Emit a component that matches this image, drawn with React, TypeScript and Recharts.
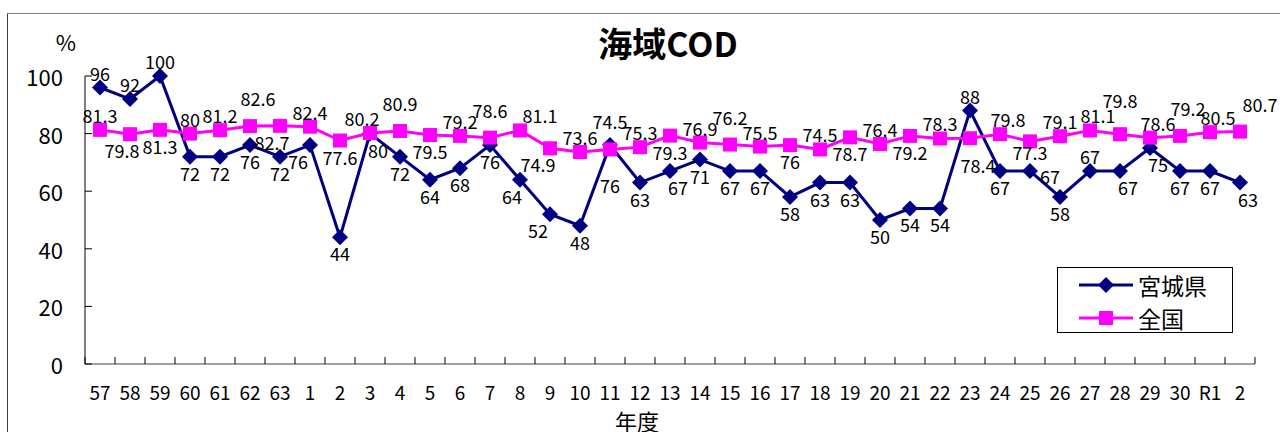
import { LineChart, Line, XAxis, YAxis, Legend } from "recharts";

// 年度 (昭和57〜平成30, 令和元, 2)
const years = [
  "57", "58", "59", "60", "61", "62", "63",
  "1", "2", "3", "4", "5", "6", "7", "8", "9", "10",
  "11", "12", "13", "14", "15", "16", "17", "18", "19", "20",
  "21", "22", "23", "24", "25", "26", "27", "28", "29", "30",
  "R1", "2",
];

// 宮城県 達成率
const miyagi = [
  96, 92, 100, 72, 72, 76, 72,
  76, 44, 80, 72, 64, 68, 76, 64, 52, 48,
  76, 63, 67, 71, 67, 67, 58, 63, 63, 50,
  54, 54, 88, 67, 67, 58, 67, 67, 75, 67,
  67, 63,
];

// 全国 達成率
const zenkoku = [
  81.3, 79.8, 81.3, 80, 81.2, 82.6, 82.7,
  82.4, 77.6, 80.2, 80.9, 79.5, 79.2, 78.6, 81.1, 74.9, 73.6,
  74.5, 75.3, 79.3, 76.9, 76.2, 75.5, 76, 74.5, 78.7, 76.4,
  79.2, 78.3, 78.4, 79.8, 77.3, 79.1, 81.1, 79.8, 78.6, 79.2,
  80.5, 80.7,
];

const yTicks = [0, 20, 40, 60, 80, 100];

// data label placement codes: vertical t/T/U above, n/s/b/B/D below, m level;
// horizontal c centre, l/L left, r/R right
const miyagiLabelPos = [
  "tc", "tc", "tc", "bc", "bc", "bc", "bc",
  "bL", "bc", "br", "bc", "bc", "bc", "bc", "bl", "bL", "bc",
  "Dc", "bc", "br", "bc", "bc", "bc", "bc", "bc", "bc", "bc",
  "bc", "bc", "tc", "bc", "nR", "bc", "tc", "br", "br", "bc",
  "bc", "br",
];
const zenkokuLabelPos = [
  "tc", "bl", "bc", "tc", "tc", "Tr", "bl",
  "tc", "bc", "tl", "Tc", "bc", "tc", "Tc", "tR", "bL", "tc",
  "Tc", "tc", "bc", "tc", "Tc", "tc", "bc", "tc", "bc", "tc",
  "bc", "tc", "Br", "tr", "sc", "tc", "tr", "Uc", "tr", "Tr",
  "tr", "TR",
];

const NAVY = "#000080";
const PINK = "#FF00FF";
const FONT = "'Noto Sans CJK JP', 'Noto Sans', sans-serif";

const data = years.map((y, i) => ({
  idx: i,
  year: y,
  miyagi: miyagi[i],
  zenkoku: zenkoku[i],
}));
// category centres carry the year labels, half steps carry the tick marks
const xTicks = [
  ...years.map((_, i) => i - 0.5),
  years.length - 0.5,
  ...years.map((_, i) => i),
].sort((a, b) => a - b);

const DY: Record<string, number> = { t: -15, T: -28, U: -34, n: 5, s: 11, b: 16, B: 27, D: 40, m: 0 };
const DX: Record<string, number> = { c: 0, l: -8, L: -12, r: 8, R: 20 };

const offset = (pos: string) => ({ dx: DX[pos[1]] ?? 0, dy: DY[pos[0]] ?? 0 });

const DiamondDot = (props: any) => {
  const { cx, cy, index, payload } = props;
  const { dx, dy } = offset(miyagiLabelPos[index]);
  return (
    <g key={`m${index}`}>
      <polygon
        points={`${cx},${cy - 8} ${cx + 8},${cy} ${cx},${cy + 8} ${cx - 8},${cy}`}
        fill={NAVY}
      />
      <text x={cx + dx} y={cy + dy} textAnchor="middle" dominantBaseline="central"
        fontSize={18} fontFamily={FONT} fill="#000">
        {payload.miyagi}
      </text>
    </g>
  );
};

const SquareDot = (props: any) => {
  const { cx, cy, index, payload } = props;
  const { dx, dy } = offset(zenkokuLabelPos[index]);
  return (
    <g key={`z${index}`}>
      <rect x={cx - 7} y={cy - 7} width={14} height={14} fill={PINK} />
      <text x={cx + dx} y={cy + dy} textAnchor="middle" dominantBaseline="central"
        fontSize={18} fontFamily={FONT} fill="#000">
        {payload.zenkoku}
      </text>
    </g>
  );
};

// x axis: inward tick marks between categories, year labels under centres
const XTick = (props: any) => {
  const { x, y, payload } = props;
  const v = payload.value;
  if (Number.isInteger(v)) {
    return (
      <text x={x} y={y + 27} textAnchor="middle" dominantBaseline="central"
        fontSize={19} fontFamily={FONT} fill="#000">
        {years[v]}
      </text>
    );
  }
  return <line x1={x} x2={x} y1={y} y2={y - 7} stroke="#000" strokeWidth={1} />;
};

// y axis: inward tick marks plus value labels
const YTick = (props: any) => {
  const { x, y, payload } = props;
  return (
    <g>
      <line x1={x} x2={x + 7} y1={y} y2={y} stroke="#000" strokeWidth={1} />
      <text x={x - 22} y={y} textAnchor="end" dominantBaseline="central"
        fontSize={22} fontFamily={FONT} fill="#000">
        {payload.value}
      </text>
    </g>
  );
};

const legendOrder = ["miyagi", "zenkoku"];

const renderLegend = (props: any) => {
  const payload = [...(props.payload || [])].sort(
    (a: any, b: any) => legendOrder.indexOf(a.dataKey) - legendOrder.indexOf(b.dataKey)
  );
  return (
    <div style={{ paddingLeft: 21 }}>
      {payload.map((entry: any) => (
        <div key={entry.value} style={{ display: "flex", alignItems: "center", height: 33 }}>
          <svg width={54} height={20}>
            <line x1={0} y1={10} x2={54} y2={10} stroke={entry.color} strokeWidth={3} />
            {entry.dataKey === "miyagi" ? (
              <polygon points="27,2 35,10 27,18 19,10" fill={NAVY} />
            ) : (
              <rect x={20} y={3} width={14} height={14} fill={PINK} />
            )}
          </svg>
          <span style={{ marginLeft: 5, fontSize: 23, fontFamily: FONT, color: "#000" }}>
            {entry.value}
          </span>
        </div>
      ))}
    </div>
  );
};

export default function App() {
  return (
    <div style={{ position: "absolute", left: 0, top: 0, width: 1280, height: 432, overflow: "hidden", background: "#fff", fontFamily: FONT }}>
      <div style={{ position: "absolute", left: 7, top: 13, width: 1400, height: 600, borderTop: "1px solid #808080", borderLeft: "1px solid #404040" }} />
      <div style={{ position: "absolute", left: 568, top: 23, width: 200, textAlign: "center", fontSize: 34, lineHeight: "40px", fontWeight: "bold" }}>
        海域COD
      </div>
      <div style={{ position: "absolute", left: 46, top: 27, width: 40, textAlign: "center", fontSize: 22, lineHeight: "28px" }}>
        %
      </div>
      <div style={{ position: "absolute", left: 597, top: 406, width: 80, textAlign: "center", fontSize: 22, lineHeight: "28px" }}>
        年度
      </div>
      <LineChart
        width={1280}
        height={432}
        data={data}
        margin={{ top: 76, right: 25, bottom: 28, left: 25 }}
        style={{ position: "absolute", left: 0, top: 0 }}
      >
        <XAxis
          type="number"
          dataKey="idx"
          domain={[-0.5, years.length - 0.5]}
          ticks={xTicks}
          interval={0}
          height={40}
          tickSize={0}
          tickMargin={0}
          tickLine={false}
          tick={XTick}
          axisLine={{ stroke: "#808080", strokeWidth: 1.5 }}
        />
        <YAxis
          width={60}
          domain={[0, 100]}
          ticks={yTicks}
          interval={0}
          tickSize={0}
          tickMargin={0}
          tickLine={false}
          tick={YTick}
          axisLine={{ stroke: "#000" }}
        />
        <Legend
          layout="vertical"
          align="center"
          verticalAlign="middle"
          content={renderLegend}
          wrapperStyle={{ left: 1057, top: 267, width: 176, height: 66, border: "1px solid #000", background: "#fff", boxSizing: "border-box" }}
        />
        <Line
          name="宮城県"
          dataKey="miyagi"
          stroke={NAVY}
          strokeWidth={3}
          dot={DiamondDot}
          activeDot={false}
          isAnimationActive={false}
        />
        <Line
          name="全国"
          dataKey="zenkoku"
          stroke={PINK}
          strokeWidth={3}
          dot={SquareDot}
          activeDot={false}
          isAnimationActive={false}
        />
      </LineChart>
    </div>
  );
}
